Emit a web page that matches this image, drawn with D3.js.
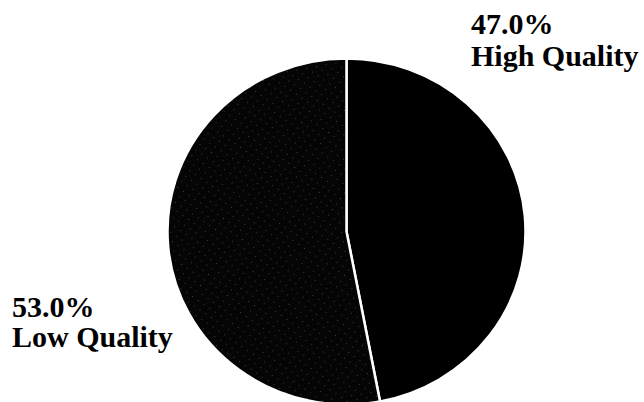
<!DOCTYPE html>
<html>
<head>
<meta charset="utf-8">
<script src="https://cdn.jsdelivr.net/npm/d3@7"></script>
<style>
  html, body { margin: 0; padding: 0; background: #fff; }
  svg { display: block; }
</style>
</head>
<body>
<svg id="chart" width="644" height="402"></svg>
<script>
// ---- data ----
const categories = ["High Quality", "Low Quality"];
const values = [47.0, 53.0];
const percentLabels = ["47.0%", "53.0%"];

// ---- layout ----
const W = 644, H = 402;
const cx = 346.5, cy = 231.5;
const rx = 179, ry = 173;
const R = rx;

const svg = d3.select("#chart");

// stipple pattern for the low-quality slice
const defs = svg.append("defs");
const pat = defs.append("pattern")
  .attr("id", "stipple")
  .attr("patternUnits", "userSpaceOnUse")
  .attr("width", 7).attr("height", 7)
  .attr("patternTransform", "rotate(-55)");
pat.append("rect").attr("width", 7).attr("height", 7).attr("fill", "#050505");
pat.append("rect").attr("x", 3).attr("y", 3).attr("width", 1).attr("height", 1).attr("fill", "#404040");

const data = categories.map((c, i) => ({ category: c, value: values[i], label: percentLabels[i] }));

const pie = d3.pie().sort(null).value(d => d.value).startAngle(0).endAngle(2 * Math.PI);
const arc = d3.arc().innerRadius(0).outerRadius(R);

const g = svg.append("g")
  .attr("transform", `translate(${cx},${cy}) scale(1, ${ry / rx})`);

const fills = { "High Quality": "#000", "Low Quality": "url(#stipple)" };

g.selectAll("path")
  .data(pie(data))
  .join("path")
  .attr("d", arc)
  .attr("fill", d => fills[d.data.category])
  .attr("stroke", "#fff")
  .attr("stroke-width", 2.5)
  .attr("stroke-linejoin", "round")
  .attr("vector-effect", "non-scaling-stroke");

// ---- labels ----
const labelPos = {
  "High Quality": { x: 471, y1: 34, y2: 66 },
  "Low Quality": { x: 12, y1: 317, y2: 347 }
};

const labels = svg.append("g")
  .attr("font-family", "'Liberation Serif', 'DejaVu Serif', serif")
  .attr("font-size", 30)
  .attr("font-weight", "bold")
  .attr("fill", "#000");

data.forEach(d => {
  const p = labelPos[d.category];
  labels.append("text").attr("x", p.x).attr("y", p.y1).text(d.label);
  labels.append("text").attr("x", p.x).attr("y", p.y2).text(d.category);
});
</script>
</body>
</html>
